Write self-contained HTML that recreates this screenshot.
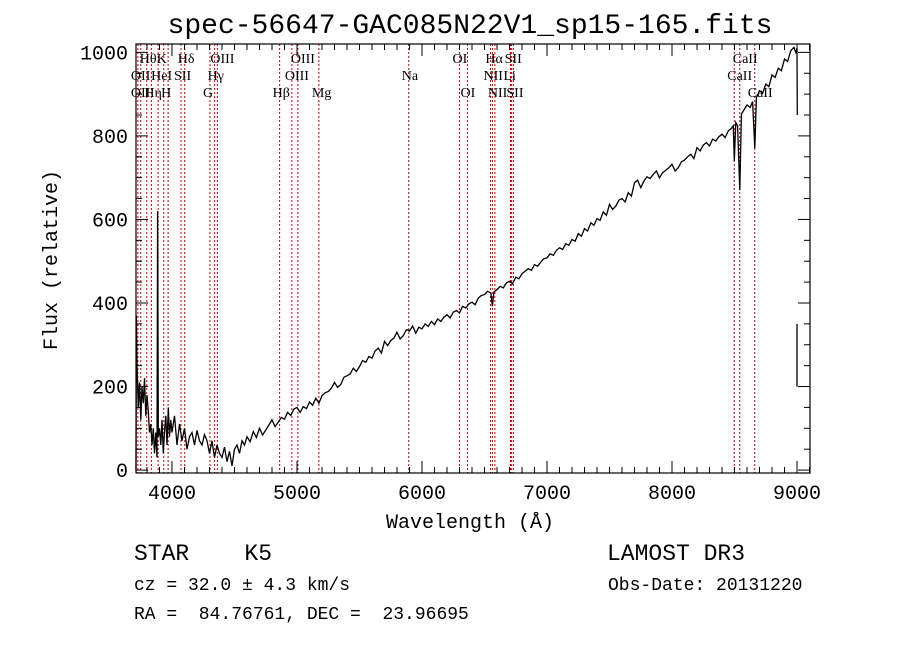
<!DOCTYPE html>
<html><head><meta charset="utf-8"><style>
body{margin:0;background:#fff;}
svg text{font-family:"Liberation Mono",monospace;fill:#000;white-space:pre;}
.ll{font-family:"Liberation Serif",serif;font-size:14px;}
</style></head><body>
<svg id="chart" width="900" height="649" viewBox="0 0 900 649" xmlns="http://www.w3.org/2000/svg" xml:space="preserve">
<rect width="900" height="649" fill="#fff"/>
<text x="470" y="33" font-size="28" text-anchor="middle">spec-56647-GAC085N22V1_sp15-165.fits</text>
<g id="lines"></g>
<g id="spec"></g>
<g id="axes"></g>
<g id="labels"></g>
<text x="470" y="528" font-size="20" text-anchor="middle">Wavelength (Å)</text>
<text transform="translate(57,260) rotate(-90)" font-size="20" text-anchor="middle">Flux (relative)</text>
<text x="134" y="560" font-size="23" font-family="Liberation Serif">STAR    K5</text>
<text x="134" y="590" font-size="18">cz = 32.0 ± 4.3 km/s</text>
<text x="134" y="619" font-size="18">RA =  84.76761, DEC =  23.96695</text>
<text x="607" y="560" font-size="23" font-family="Liberation Serif">LAMOST DR3</text>
<text x="608" y="590" font-size="18">Obs-Date: 20131220</text>
</svg>
<script>
const xTicks=[4000,5000,6000,7000,8000,9000];
const yTicks=[0,200,400,600,800,1000];
const lineWaves=[3727,3750,3798,3835,3889,3934,3969,4072,4102,4304,4341,4363,4861,4959,5007,5175,5894,6300,6364,6548,6563,6583,6708,6717,6731,8498,8542,8662];
const labelText=["Hθ","K","Hδ","OIII","OIII","OI","Hα","SII","CaII","OII","HeI","SII","Hγ","OIII","Na","NII","Li","CaII","OII","Hη","H","G","Hβ","Mg","OI","NII","SII","CaII"];
const labelWave=[3798,3934,4102,4363,5007,6300,6563,6717,8542,3727,3889,4072,4341,4959,5894,6548,6708,8498,3727,3835,3969,4304,4861,5175,6364,6583,6731,8662];
const labelRow=[0,0,0,0,0,0,0,0,0,1,1,1,1,1,1,1,1,1,2,2,2,2,2,2,2,2,2,2];
const waves=[3712,3715,3720,3730,3740,3750,3760,3770,3780,3790,3800,3810,3820,3830,3840,3850,3860,3870,3880,3885,3890,3900,3910,3920,3930,3940,3950,3960,3970,3980,3990,4000,4020,4040,4060,4080,4100,4120,4140,4160,4180,4200,4220,4240,4260,4280,4300,4320,4340,4360,4380,4400,4420,4440,4460,4480,4500,4520,4540,4560,4580,
4600,4625,4650,4675,4700,4725,4750,4775,4800,4825,4850,4875,4900,4925,4950,4975,5000,5025,5050,5075,5100,5125,5150,5175,5200,5225,5250,5275,5300,5325,5350,5375,5400,5425,5450,5475,5500,5525,5550,5575,5600,5625,5650,5675,5700,5725,5750,5775,5800,5825,5850,5875,5900,5925,5950,5975,6000,6025,6050,6075,6100,6125,6150,6175,6200,6225,6250,6275,6300,6325,6350,6375,6400,6425,6450,6475,6500,6525,6550,6563,6575,6600,6625,6650,6675,6700,6725,6750,6775,6800,6825,6850,6875,6900,6925,6950,6975,7000,7025,7050,7075,7100,7125,7150,7175,7200,7225,7250,7275,7300,7325,7350,7375,7400,7425,7450,7475,7500,7525,7550,7575,7600,7625,7650,7675,7700,7725,7750,7775,7800,7825,7850,7875,7900,7925,7950,7975,8000,8025,8050,8075,8100,8125,8150,8175,8200,8225,8250,8275,8300,8325,8350,8375,8400,8425,8450,8475,8490,8498,8510,8525,8542,8555,8575,8600,8625,8645,8662,8675,8700,8725,8750,8775,8800,8825,8850,8875,8900,8925,8950,8975,8990,9000,9002];
const flux=[0,370,250,150,210,120,200,160,220,130,180,140,90,110,60,100,40,90,30,620,80,100,60,120,40,90,130,60,150,80,120,90,130,60,110,70,100,50,80,90,60,95,70,60,85,70,40,70,30,60,40,30,55,20,45,10,50,60,40,70,60,
80,68,92,78,100,84,96,108,120,104,115,126,122,138,131,146,150,138,152,147,163,155,172,160,178,185,188,196,210,198,205,222,226,230,244,236,248,262,258,272,268,285,292,280,308,298,310,316,330,314,322,336,333,345,328,342,338,350,344,356,348,362,356,366,372,364,378,382,376,392,388,398,402,396,412,418,420,428,424,392,426,432,440,436,448,452,446,462,458,470,476,482,478,492,488,498,506,508,518,514,526,532,528,542,538,552,548,566,560,578,572,592,586,602,598,618,610,636,624,632,646,650,642,664,656,688,694,676,692,702,698,708,716,700,712,718,724,732,716,724,738,742,750,756,746,772,764,778,784,776,792,788,798,804,796,812,818,824,740,832,824,670,852,862,874,868,882,770,892,908,902,924,918,946,940,962,956,984,978,1004,1012,1000,1010,850];
const X0=136,X1=810,Y0=44,Y1=473,WMIN=3712,WMAX=9104,FMIN=-7,FMAX=1020;
const xs=w=>X0+(w-WMIN)/(WMAX-WMIN)*(X1-X0);
const ys=f=>Y1-(f-FMIN)/(FMAX-FMIN)*(Y1-Y0);
const NS="http://www.w3.org/2000/svg";
function mk(t,a,p){const e=document.createElementNS(NS,t);for(const k in a)e.setAttribute(k,a[k]);p.appendChild(e);return e;}
const gl=document.getElementById('lines');
lineWaves.forEach(w=>{const l=mk('line',{x1:xs(w),x2:xs(w),y1:Y0,y2:Y1,stroke:'#c00000','stroke-width':1,'stroke-dasharray':'2,2'},gl);

});
const glb=document.getElementById('labels');
labelText.forEach((t,i)=>{const e=mk('text',{x:xs(labelWave[i])-7,y:63+labelRow[i]*17,class:'ll'},glb);e.textContent=t;

});
const gs=document.getElementById('spec');
let d=waves.map((w,i)=>(i?'L':'M')+xs(w).toFixed(1)+','+ys(flux[i]).toFixed(1)).join(' ');
const p=mk('path',{d:d,fill:'none',stroke:'#000','stroke-width':1.3},gs);


const tail=mk('line',{x1:xs(9000),x2:xs(9000),y1:ys(350),y2:ys(200),stroke:'#000','stroke-width':1.3},gs);


const ga=document.getElementById('axes');
const fr=mk('rect',{x:X0,y:Y0,width:X1-X0,height:Y1-Y0,fill:'none',stroke:'#000','stroke-width':1.2},ga);


for(let w=3800;w<=9100;w+=100){const x=xs(w),len=(w%1000==0)?12:6;
mk('line',{x1:x,x2:x,y1:Y1,y2:Y1-len,stroke:'#000'},ga);mk('line',{x1:x,x2:x,y1:Y0,y2:Y0+len,stroke:'#000'},ga);}
for(let f=0;f<=1000;f+=50){const y=ys(f),len=(f%200==0)?12:6;
mk('line',{x1:X0,x2:X0+len,y1:y,y2:y,stroke:'#000'},ga);mk('line',{x1:X1,x2:X1-len,y1:y,y2:y,stroke:'#000'},ga);}
xTicks.forEach(w=>{const t=mk('text',{x:xs(w),y:Y1+26,'font-size':20,'text-anchor':'middle'},ga);t.textContent=w;

});
yTicks.forEach(f=>{const t=mk('text',{x:X0-8,y:ys(f)+7,'font-size':20,'text-anchor':'end'},ga);t.textContent=f;

});
</script>
</body></html>
